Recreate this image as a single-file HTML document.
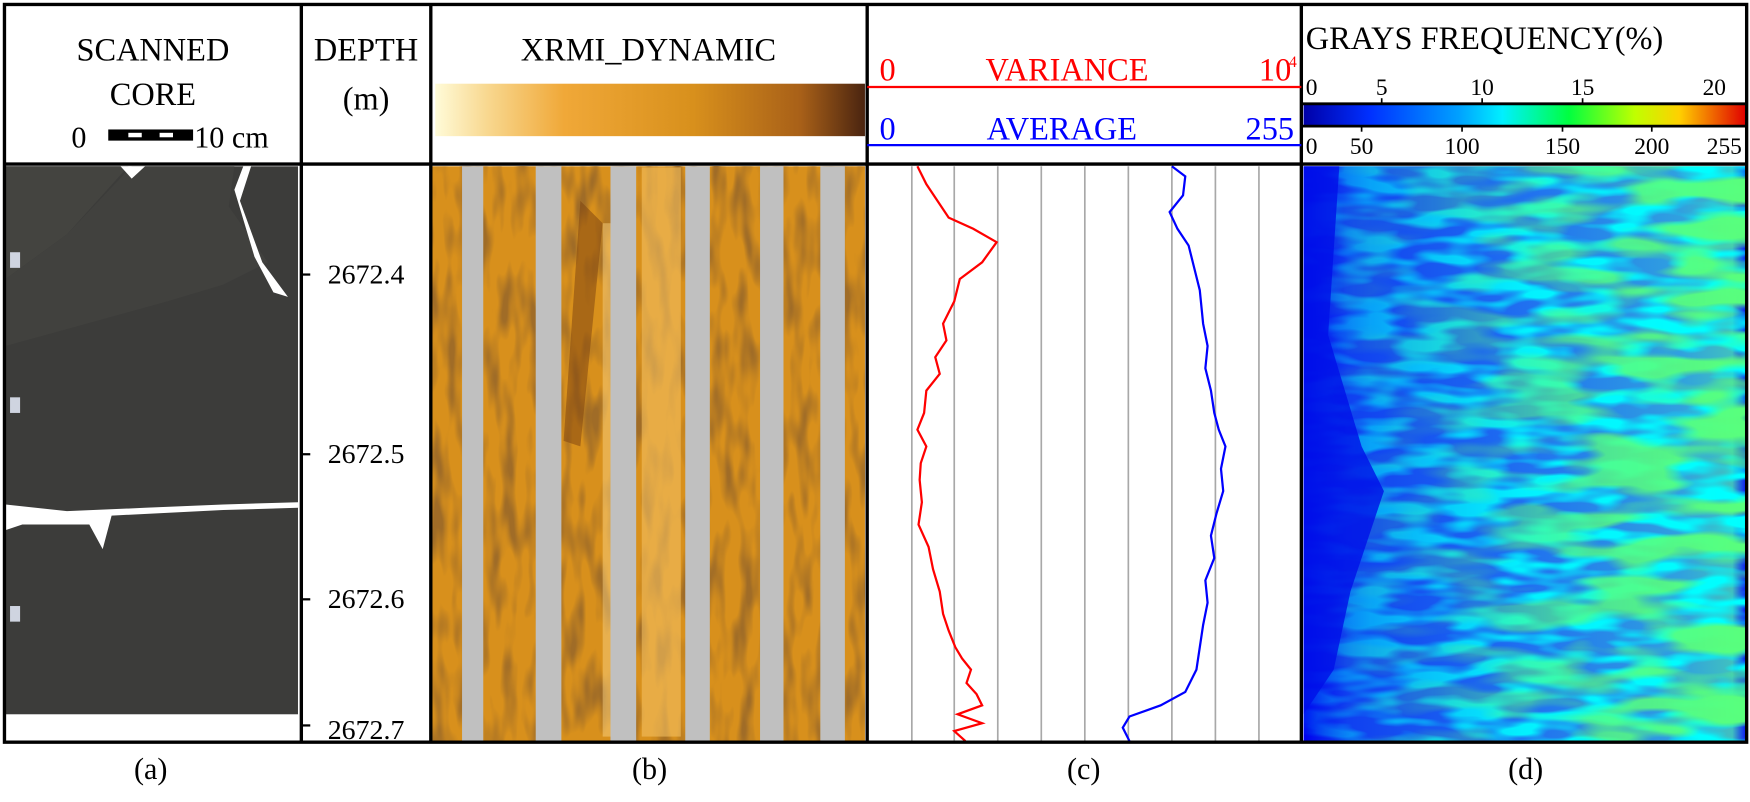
<!DOCTYPE html>
<html><head><meta charset="utf-8"><style>html,body{margin:0;padding:0;background:#fff}svg{display:block}text{font-family:"Liberation Serif",serif}</style></head><body>
<svg width="1750" height="802" viewBox="0 0 1568 718.6" preserveAspectRatio="none" xmlns="http://www.w3.org/2000/svg">
<defs>
<linearGradient id="xr" x1="0" x2="1" y1="0" y2="0">
<stop offset="0" stop-color="#fffbd8"/><stop offset="0.12" stop-color="#f8d890"/><stop offset="0.3" stop-color="#f0a838"/><stop offset="0.6" stop-color="#d8901c"/><stop offset="0.85" stop-color="#a86018"/><stop offset="1" stop-color="#4a2410"/></linearGradient>
<linearGradient id="jet" x1="0" x2="1"><stop offset="0" stop-color="#0000a8"/><stop offset="0.15" stop-color="#0030ff"/><stop offset="0.35" stop-color="#00a0ff"/><stop offset="0.45" stop-color="#00f0ff"/><stop offset="0.6" stop-color="#00ff40"/><stop offset="0.75" stop-color="#c0ff00"/><stop offset="0.85" stop-color="#ffd000"/><stop offset="1" stop-color="#e00000"/></linearGradient>
<linearGradient id="hb" x1="0" x2="1"><stop offset="0" stop-color="#0000f0"/><stop offset="0.1" stop-color="#1040f0"/><stop offset="0.5" stop-color="#2070f0"/><stop offset="0.85" stop-color="#30a0e0"/><stop offset="0.97" stop-color="#40c0c0"/><stop offset="1" stop-color="#1020f0"/></linearGradient>
<linearGradient id="mk" x1="0" x2="1"><stop offset="0" stop-color="#fff" stop-opacity="0.1"/><stop offset="0.15" stop-color="#fff" stop-opacity="0.5"/><stop offset="0.5" stop-color="#fff" stop-opacity="0.9"/><stop offset="1" stop-color="#fff" stop-opacity="1"/></linearGradient>
<linearGradient id="mk2" x1="0" x2="1"><stop offset="0" stop-color="#fff" stop-opacity="0"/><stop offset="0.3" stop-color="#fff" stop-opacity="0.2"/><stop offset="0.7" stop-color="#fff" stop-opacity="0.8"/><stop offset="1" stop-color="#fff" stop-opacity="1"/></linearGradient>
<mask id="m"><rect x="1168" y="149" width="396" height="515" fill="url(#mk)"/></mask>
<mask id="m2"><rect x="1168" y="149" width="396" height="515" fill="url(#mk2)"/></mask>
<filter id="tb" x="0" y="0" width="1" height="1"><feTurbulence type="fractalNoise" baseFrequency="0.012 0.05" numOctaves="2" seed="4"/>
<feColorMatrix type="matrix" values="0 0 0 0 0.1  0 0 0 0 1  0 0 0 0 0.2  0 0 0 5 -2.1"/></filter>
<filter id="tb2" x="0" y="0" width="1" height="1"><feTurbulence type="fractalNoise" baseFrequency="0.02 0.08" numOctaves="2" seed="9"/>
<feColorMatrix type="matrix" values="0 0 0 0 0  0 0 0 0 1  0 0 0 0 1  0 0 0 4 -1.6"/></filter>
<filter id="tbo" x="0" y="0" width="1" height="1"><feTurbulence type="fractalNoise" baseFrequency="0.08 0.02" numOctaves="2" seed="3"/>
<feColorMatrix type="matrix" values="0 0 0 0 0.35  0 0 0 0 0.15  0 0 0 0 0.02  0 0 0 3 -1.3"/></filter>
</defs>
<!-- core image -->
<rect x="5" y="149" width="262" height="491" fill="#3c3c3a"/>
<path d="M5 149 L115 149 L60 210 L5 250Z" fill="#444440"/>
<path d="M118 149 L210 149 L205 185 L240 235 L200 255 L150 270 L5 310 L5 250 L60 210Z" fill="#41413e"/>
<path d="M205 149 L218 149 L210 170 L228 230 L245 262 L258 266 L235 235 L215 180 L225 149Z" fill="#fff"/>
<path d="M108 149 L130 149 L118 160Z" fill="#fff"/>
<path d="M5 452 L60 458 L130 455 L200 452 L267 450 L267 455 L200 457 L100 462 L92 492 L80 470 L20 470 L5 475Z" fill="#fff"/>
<rect x="9" y="226" width="9" height="14" fill="#cfd4e0"/><rect x="9" y="356" width="9" height="14" fill="#cfd4e0"/><rect x="9" y="543" width="9" height="14" fill="#cfd4e0"/>
<!-- xrmi -->
<rect x="387" y="149" width="388" height="515" fill="#d8901c"/>
<rect x="387" y="149" width="388" height="515" filter="url(#tbo)"/>
<path d="M520 180 L540 200 L520 400 L505 395Z" fill="#7a4010" opacity="0.5"/>
<rect x="575" y="150" width="35" height="510" fill="#f4c060" opacity="0.6"/>
<rect x="540" y="200" width="18" height="460" fill="#f8d080" opacity="0.5"/>
<g fill="#c0c0c0"><rect x="414" y="149" width="19" height="515"/><rect x="480" y="149" width="23" height="515"/><rect x="547" y="149" width="23" height="515"/><rect x="614" y="149" width="22" height="515"/><rect x="681" y="149" width="21" height="515"/><rect x="735" y="149" width="22" height="515"/></g>
<rect x="390" y="75" width="385" height="47" fill="url(#xr)"/>
<!-- heatmap -->
<rect x="1168" y="149" width="396" height="515" fill="url(#hb)"/>
<g mask="url(#m)"><rect x="1168" y="149" width="396" height="515" filter="url(#tb2)"/></g>
<g mask="url(#m2)"><rect x="1168" y="149" width="396" height="515" filter="url(#tb)"/></g>
<path d="M1168 149 L1200 149 L1190 300 L1220 400 L1240 440 L1210 530 L1195 600 L1168 640Z" fill="#0010e8" opacity="0.8"/>
<rect x="1168" y="93" width="396" height="20" fill="url(#jet)"/>
<!-- grid in c -->
<g stroke="#a8a8a8" stroke-width="1.5"><line x1="817" y1="149" x2="817" y2="664"/><line x1="855" y1="149" x2="855" y2="664"/><line x1="894" y1="149" x2="894" y2="664"/><line x1="933" y1="149" x2="933" y2="664"/><line x1="972" y1="149" x2="972" y2="664"/><line x1="1011" y1="149" x2="1011" y2="664"/><line x1="1050" y1="149" x2="1050" y2="664"/><line x1="1089" y1="149" x2="1089" y2="664"/><line x1="1128" y1="149" x2="1128" y2="664"/></g>
<polyline fill="none" stroke="#f00" stroke-width="2" points="822,149 830,165 840,180 850,195 872,205 893,217 880,235 860,250 855,270 845,290 848,305 838,320 842,335 830,350 828,370 822,385 830,400 825,415 824,430 826,450 823,470 832,490 836,510 842,530 845,550 850,565 856,580 862,590 870,600 866,612 875,622 880,632 858,640 880,648 855,655 865,664"/>
<polyline fill="none" stroke="#00f" stroke-width="2" points="1050,149 1062,158 1060,175 1048,190 1055,205 1065,220 1070,240 1075,260 1078,290 1082,310 1080,330 1085,350 1088,370 1092,385 1098,400 1094,420 1096,440 1090,460 1085,480 1088,500 1080,520 1082,540 1078,560 1075,580 1072,600 1062,620 1040,632 1012,642 1006,652 1012,664"/>
<!-- frame -->
<g stroke="#000" stroke-width="3" fill="none"><rect x="4" y="4" width="1561" height="661"/><line x1="4" y1="147" x2="1565" y2="147"/><line x1="270" y1="4" x2="270" y2="665"/><line x1="386" y1="4" x2="386" y2="665"/><line x1="777" y1="4" x2="777" y2="665"/><line x1="1166" y1="4" x2="1166" y2="665"/></g>
<line x1="777" y1="78" x2="1166" y2="78" stroke="#f00" stroke-width="2"/>
<line x1="777" y1="130" x2="1166" y2="130" stroke="#00f" stroke-width="2"/>
<g stroke="#000" stroke-width="2.5"><line x1="1166" y1="93" x2="1565" y2="93"/><line x1="1166" y1="113" x2="1565" y2="113"/></g>
<!-- depth ticks -->
<g stroke="#000" stroke-width="2"><line x1="270" y1="246" x2="278" y2="246"/><line x1="270" y1="407" x2="278" y2="407"/><line x1="270" y1="537" x2="278" y2="537"/><line x1="270" y1="650" x2="278" y2="650"/></g>
<g font-size="25" text-anchor="middle"><text x="328" y="254">2672.4</text><text x="328" y="415">2672.5</text><text x="328" y="545">2672.6</text><text x="328" y="662">2672.7</text></g>
<!-- headers -->
<g font-size="29" text-anchor="middle"><text x="137" y="54">SCANNED</text><text x="137" y="94">CORE</text><text x="328" y="54">DEPTH</text><text x="328" y="98">(m)</text><text x="581" y="54">XRMI_DYNAMIC</text></g>
<text x="64" y="132" font-size="27">0</text>
<rect x="97" y="116" width="76" height="10" fill="#000"/><rect x="115" y="119" width="12" height="4" fill="#fff"/><rect x="143" y="119" width="12" height="4" fill="#fff"/>
<text x="174" y="132" font-size="27">10 cm</text>
<g font-size="29" fill="#f00"><text x="788" y="72">0</text><text x="883" y="72">VARIANCE</text><text x="1128" y="72">10</text><text x="1155" y="60" font-size="14">4</text></g>
<g font-size="29" fill="#00f"><text x="788" y="125">0</text><text x="884" y="125">AVERAGE</text><text x="1116" y="125">255</text></g>
<text x="1170" y="44" font-size="29">GRAYS FREQUENCY(%)</text>
<g font-size="21" text-anchor="middle"><text x="1170" y="85" text-anchor="start">0</text><text x="1238" y="85">5</text><text x="1328" y="85">10</text><text x="1418" y="85">15</text><text x="1536" y="85">20</text>
<text x="1170" y="138" text-anchor="start">0</text><text x="1220" y="138">50</text><text x="1310" y="138">100</text><text x="1400" y="138">150</text><text x="1480" y="138">200</text><text x="1545" y="138">255</text></g>
<g stroke="#000" stroke-width="1.5"><line x1="1238" y1="88" x2="1238" y2="93"/><line x1="1328" y1="88" x2="1328" y2="93"/><line x1="1418" y1="88" x2="1418" y2="93"/><line x1="1220" y1="113" x2="1220" y2="118"/><line x1="1310" y1="113" x2="1310" y2="118"/><line x1="1400" y1="113" x2="1400" y2="118"/><line x1="1480" y1="113" x2="1480" y2="118"/></g>
<g font-size="27" text-anchor="middle"><text x="135" y="698">(a)</text><text x="582" y="698">(b)</text><text x="971" y="698">(c)</text><text x="1367" y="698">(d)</text></g>
</svg>
</body></html>
